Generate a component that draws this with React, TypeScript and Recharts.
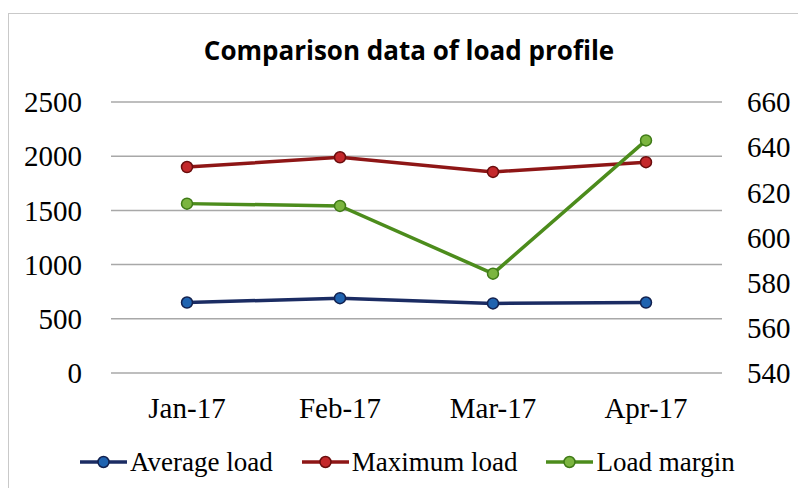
import { LineChart, Line, XAxis, YAxis, CartesianGrid } from "recharts";

const months = ["Jan-17", "Feb-17", "Mar-17", "Apr-17"];
const averageLoad = [650, 690, 642, 650];
const maximumLoad = [1900, 1990, 1855, 1945];
const loadMargin = [615, 614, 584, 643];
const leftTicks = [0, 500, 1000, 1500, 2000, 2500];
const rightTicks = [540, 560, 580, 600, 620, 640, 660];

const series = [
  { key: "avg", name: "Average load", axis: "left", line: "#1b2c63", dot: "#1f63b0", edge: "#12214f" },
  { key: "max", name: "Maximum load", axis: "left", line: "#8e1616", dot: "#c4282b", edge: "#6a0d0d" },
  { key: "margin", name: "Load margin", axis: "right", line: "#4c8c1c", dot: "#7bb53f", edge: "#3f7a17" },
];

const data = months.map((m, i) => ({
  month: m,
  avg: averageLoad[i],
  max: maximumLoad[i],
  margin: loadMargin[i],
}));

const serif = "'Liberation Serif', 'Times New Roman', serif";
const tickStyle = { fontFamily: serif, fontSize: 29, fill: "#000" };

function LegendRow() {
  return (
    <div
      style={{
        position: "absolute",
        left: 80,
        top: 446,
        display: "flex",
        alignItems: "center",
        fontFamily: serif,
        fontSize: 27,
        lineHeight: "32px",
        color: "#000",
      }}
    >
      {series.map((s) => (
        <div key={s.key} style={{ display: "flex", alignItems: "center", marginRight: 29 }}>
          <svg width={47} height={14} style={{ marginRight: 3 }}>
            <line x1={0} y1={7} x2={47} y2={7} stroke={s.line} strokeWidth={3.5} />
            <circle cx={23.5} cy={7} r={5.5} fill={s.dot} stroke={s.edge} strokeWidth={1.5} />
          </svg>
          <span>{s.name}</span>
        </div>
      ))}
    </div>
  );
}

export default function App() {
  return (
    <div style={{ position: "absolute", left: 0, top: 0, width: 798, height: 488, overflow: "hidden", background: "#fff" }}>
      <div
        style={{
          position: "absolute",
          left: 8,
          top: 13,
          width: 820,
          height: 520,
          border: "1.5px solid #c9c9c9",
        }}
      />
      <div
        style={{
          position: "absolute",
          left: 109,
          top: 32,
          width: 600,
          textAlign: "center",
          fontFamily: "'Open Sans', 'Noto Sans', sans-serif",
          fontWeight: 700,
          fontSize: 26,
          lineHeight: "36px",
          color: "#000",
        }}
      >
        Comparison data of load profile
      </div>
      <div style={{ position: "absolute", left: 0, top: 0 }}>
        <LineChart width={798} height={488} data={data} margin={{ top: 102, right: 0, bottom: 75, left: 0 }}>
          <CartesianGrid yAxisId="left" vertical={false} stroke="#a8a8a8" strokeWidth={1.5} />
          <XAxis
            dataKey="month"
            height={40}
            axisLine={false}
            tickLine={false}
            tickMargin={18}
            tick={tickStyle}
            interval={0}
            padding={{ left: 76, right: 76 }}
          />
          <YAxis
            yAxisId="left"
            orientation="left"
            width={111}
            domain={[0, 2500]}
            ticks={leftTicks}
            axisLine={false}
            tickLine={false}
            tickMargin={23}
            tick={tickStyle}
          />
          <YAxis
            yAxisId="right"
            orientation="right"
            width={76}
            domain={[540, 660]}
            ticks={rightTicks}
            axisLine={false}
            tickLine={false}
            tickMargin={19}
            tick={{ ...tickStyle, textAnchor: "start" }}
          />
          {series.map((s) => (
            <Line
              key={s.key}
              yAxisId={s.axis}
              dataKey={s.key}
              name={s.name}
              type="linear"
              stroke={s.line}
              strokeWidth={3.5}
              dot={{ r: 5.5, fill: s.dot, stroke: s.edge, strokeWidth: 1.5 }}
              activeDot={false}
              isAnimationActive={false}
            />
          ))}
        </LineChart>
      </div>
      <LegendRow />
    </div>
  );
}
